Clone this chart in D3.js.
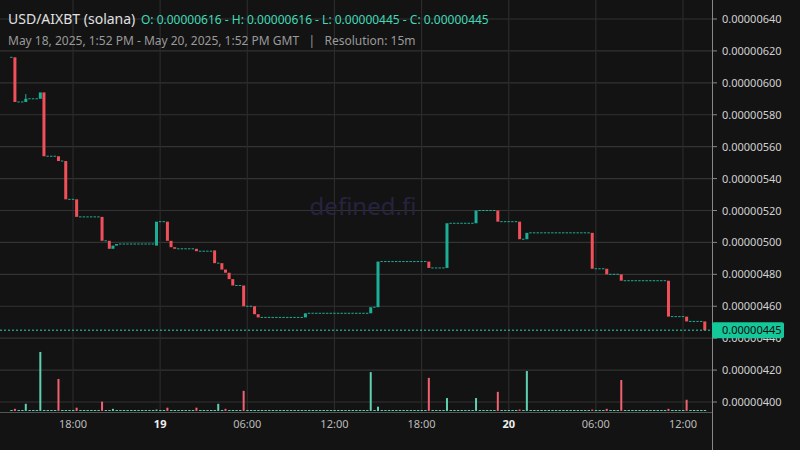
<!DOCTYPE html>
<html><head><meta charset="utf-8">
<script src="https://cdn.jsdelivr.net/npm/d3@7"></script>
<style>body{margin:0;background:#131313;}svg{display:block;font-family:"Noto Sans",sans-serif;}</style>
</head><body>
<script>
// prices in units of 1e-8 USD, 15m candles from May 18 13:45 UTC
const candleCount = 192;
const firstPrice = 616;
const moveIndex = [1,4,8,9,13,15,18,25,27,28,29,40,43,44,45,51,56,58,59,60,61,64,67,68,81,99,101,115,120,128,134,140,142,160,164,168,181,186,191];
const moveOpen  = [616,588,590,594,554,551,527,516,501,496,498,498,513,501,497,496,495,487,483,481,477,473,460,455,453,455.6,459.4,488,484,512,520,513,502,506,483.5,480,476,453.5,450.5];
const moveClose = [588,590,594,554,551,527,516,501,496,498,499,513,501,497,496,494.5,487,483,481,477,473,460,455,453,455.6,459.4,488,484,512,520,513,502,506,483.5,480,476,453.5,450.5,445];
const moveHigh  = {4:593};
const volIndex = [1,4,8,13,18,25,28,40,43,51,57,59,64,99,101,115,120,128,134,140,142,160,164,168,181,186];
const volValue = [3,10,82,44.5,4.6,13,3,2,4.6,4.6,10,3,28,54,6,46,18,18,26.6,2,55.5,2,3,43,3,15.6];
const volUp    = [0,1,1,0,0,0,1,1,0,0,1,0,0,1,1,0,1,1,0,0,1,0,0,0,0,0];
const priceTicks = [400,420,440,460,480,500,520,540,560,580,600,620,640];
const timeTicks = ["2025-05-18T18:00Z","2025-05-19T00:00Z","2025-05-19T06:00Z","2025-05-19T12:00Z","2025-05-19T18:00Z","2025-05-20T00:00Z","2025-05-20T06:00Z","2025-05-20T12:00Z"].map(d=>new Date(d));

const W=800,H=450;
const t0 = new Date("2025-05-18T13:45Z");
const candles=[];
let last=firstPrice;
for(let i=0;i<candleCount;i++){
  const k=moveIndex.indexOf(i);
  const t=new Date(+t0+i*9e5);
  if(k>=0){const o=moveOpen[k],c=moveClose[k];candles.push({t,o,c,h:moveHigh[i]||Math.max(o,c),l:Math.min(o,c),flat:false});last=c;}
  else candles.push({t,o:last,c:last,h:last,l:last,flat:true});
}
candles.forEach((d,i)=>{const k=volIndex.indexOf(i);d.v=k>=0?volValue[k]:0;d.vu=k>=0?volUp[k]:1;});

const x=d3.scaleTime().domain([new Date("2025-05-18T18:00Z"),new Date("2025-05-20T12:00Z")]).range([73,683]);
const y=d3.scaleLinear().domain([400,640]).range([402,19]);
const yv=d3.scaleLinear().domain([0,100]).range([411,339]);
const fmt=v=>(v*1e-8).toFixed(8);

const svg=d3.select("body").append("svg").attr("width",W).attr("height",H);
svg.append("rect").attr("width",W).attr("height",H).attr("fill","#131313");

svg.selectAll("line.hg").data(priceTicks).join("line").attr("class","hg")
  .attr("x1",0).attr("x2",712).attr("y1",d=>y(d)).attr("y2",d=>y(d)).attr("stroke","#333").attr("stroke-width",1.2);
svg.selectAll("line.vg").data(timeTicks).join("line").attr("class","vg")
  .attr("x1",d=>x(d)).attr("x2",d=>x(d)).attr("y1",0).attr("y2",412).attr("stroke","#2b2b2b").attr("stroke-width",1.2);

svg.append("text").attr("x",363).attr("y",215).attr("text-anchor","middle").attr("font-size",24)
  .attr("fill","#262340").text("defined.fi");

// volume
svg.selectAll("rect.vol").data(candles).join("rect").attr("class","vol")
  .attr("x",d=>x(d.t)-1).attr("width",d=>d.v?2:2.4)
  .attr("y",d=>d.v?yv(d.v):yv(0)-1).attr("height",d=>d.v?yv(0)-yv(d.v):1)
  .attr("fill",d=>d.vu?"#5fd0b0":"#f06272");

// candles
svg.selectAll("line.wick").data(candles.filter(d=>d.h>Math.max(d.o,d.c))).join("line").attr("class","wick")
  .attr("x1",d=>x(d.t)).attr("x2",d=>x(d.t)).attr("y1",d=>y(d.h)).attr("y2",d=>y(d.l)).attr("stroke","#1cae96");
svg.selectAll("rect.c").data(candles).join("rect").attr("class","c")
  .attr("x",d=>x(d.t)-(d.flat?1.2:1.5)).attr("width",d=>d.flat?2.4:3)
  .attr("y",d=>y(Math.max(d.o,d.c))-(d.flat?0.5:0)).attr("height",d=>Math.max(1,Math.abs(y(d.o)-y(d.c))))
  .attr("fill",d=>d.c>=d.o?"#1cae96":"#f0505a");

// current price line
const cur=candles[candles.length-1].c;
svg.append("line").attr("x1",0).attr("x2",712).attr("y1",y(cur)).attr("y2",y(cur))
  .attr("stroke","#2ed3b0").attr("stroke-dasharray","2,2");

// axes
svg.append("line").attr("x1",712.5).attr("x2",712.5).attr("y1",0).attr("y2",H).attr("stroke","#888");
svg.append("line").attr("x1",0).attr("x2",712).attr("y1",412.5).attr("y2",412.5).attr("stroke","#555");
svg.selectAll("text.pt").data(priceTicks).join("text").attr("class","pt")
  .attr("x",722).attr("y",d=>y(d)+4).attr("font-size",11).attr("fill","#d0d0d0").text(fmt);
svg.selectAll("line.pk").data(priceTicks).join("line").attr("class","pk")
  .attr("x1",712).attr("x2",717).attr("y1",d=>y(d)).attr("y2",d=>y(d)).attr("stroke","#888");
svg.append("rect").attr("x",712).attr("y",y(cur)-8).attr("width",72).attr("height",16).attr("rx",2).attr("fill","#14c89a");
svg.append("text").attr("x",722).attr("y",y(cur)+4).attr("font-size",11).attr("fill","#0d0d0d").text(fmt(cur));
svg.selectAll("text.tt").data(timeTicks).join("text").attr("class","tt")
  .attr("x",d=>x(d)).attr("y",428).attr("text-anchor","middle").attr("font-size",11)
  .attr("fill",d=>d.getUTCHours()===0?"#eee":"#bbb").attr("font-weight",d=>d.getUTCHours()===0?"bold":"normal")
  .text(d=>d.getUTCHours()===0?d3.utcFormat("%-d")(d):d3.utcFormat("%H:%M")(d));

// header
const t1=svg.append("text").attr("x",8).attr("y",24);
t1.append("tspan").attr("font-size",14).attr("fill","#e0e0e0").text("USD/AIXBT (solana) ");
t1.append("tspan").attr("font-size",12).attr("fill","#3fd9b8").attr("dx",2)
  .text(`O: ${fmt(candles[0].o)} - H: ${fmt(616)} - L: ${fmt(cur)} - C: ${fmt(cur)}`);
svg.append("text").attr("x",8).attr("y",45).attr("font-size",12).attr("fill","#9a9a9a").attr("xml:space","preserve")
  .text("May 18, 2025, 1:52 PM - May 20, 2025, 1:52 PM GMT   |   Resolution: 15m");
</script>
</body></html>
